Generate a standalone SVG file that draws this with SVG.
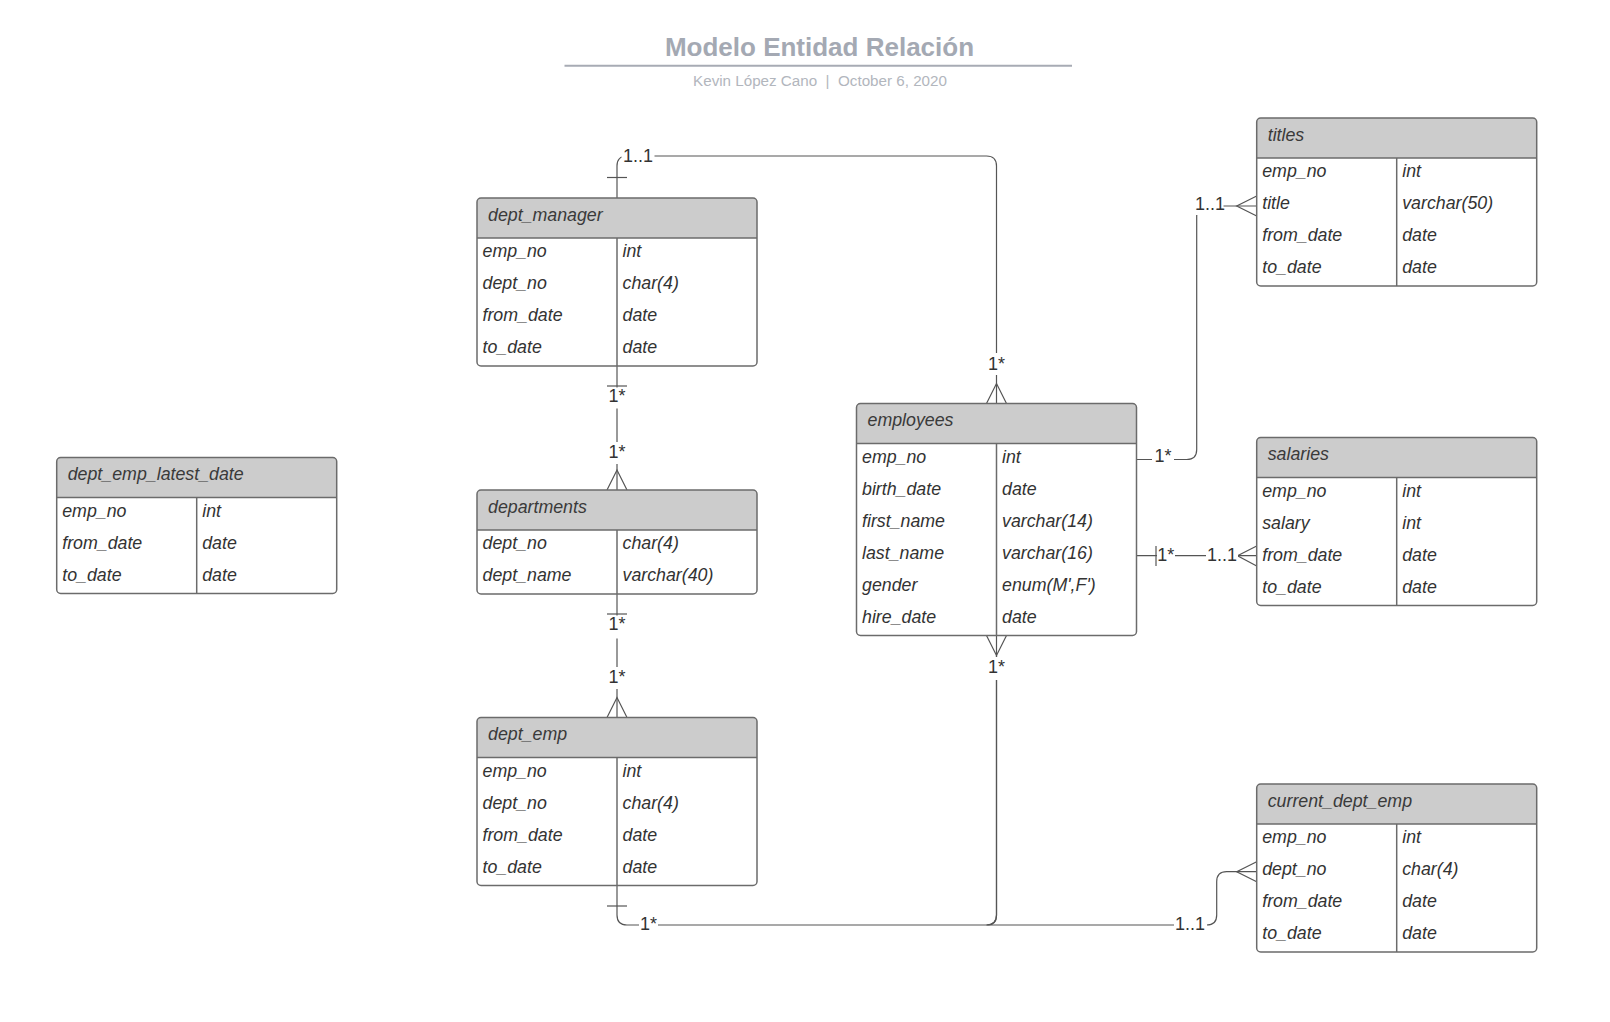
<svg xmlns="http://www.w3.org/2000/svg" width="1610" height="1022" viewBox="0 0 1610 1022">
<style>
  .body{fill:#ffffff;stroke:none}
  .hdr{fill:#cccccc;stroke:none}
  .frame{fill:none;stroke:#6b6b6b;stroke-width:1.5}
  .ln{stroke:#6b6b6b;stroke-width:1.5}
  .ht{font-family:"Liberation Sans",Arial,sans-serif;font-style:italic;font-size:17.8px;fill:#3a3a3a}
  .t{font-family:"Liberation Sans",Arial,sans-serif;font-style:italic;font-size:17.8px;fill:#333333}
  .c{fill:none;stroke:#555555;stroke-width:1.2}
  .lb{font-family:"Liberation Sans",Arial,sans-serif;font-size:18px;fill:#333333}
  .bg{fill:#ffffff}
</style>
<rect width="1610" height="1022" fill="#ffffff"/>

<g id="title">
  <text x="819.5" y="56" text-anchor="middle" font-family="Liberation Sans, Arial, sans-serif" font-weight="bold" font-size="26" fill="#a4a9b3">Modelo Entidad Relación</text>
  <line x1="564.5" y1="65.7" x2="1072" y2="65.7" stroke="#a7abb4" stroke-width="2"/>
  <text x="820" y="85.5" text-anchor="middle" font-family="Liberation Sans, Arial, sans-serif" font-size="15.2" fill="#b2b6bd" xml:space="preserve">Kevin López Cano  |  October 6, 2020</text>
</g>

<g id="connectors">
  <!-- dept_manager -> employees -->
  <path class="c" d="M617,198 V166 Q617,156 627,156 H986.5 Q996.5,156 996.5,166 V403.5"/>
  <path class="c" d="M607,177.5 H627"/>
  <path class="c" d="M986.5,403.5 L996.5,383.5 L1006.5,403.5"/>
  <!-- dept_manager -> departments -->
  <path class="c" d="M617,366 V490"/>
  <path class="c" d="M607,386 H627"/>
  <path class="c" d="M607,490 L617,470 L627,490"/>
  <!-- departments -> dept_emp -->
  <path class="c" d="M617,594 V717.5"/>
  <path class="c" d="M607,614 H627"/>
  <path class="c" d="M607,717.5 L617,697.5 L627,717.5"/>
  <!-- dept_emp -> employees -->
  <path class="c" d="M617,885.5 V915 Q617,925 627,925 H986.5 Q996.5,925 996.5,915 V635.5"/>
  <path class="c" d="M607,906 H627"/>
  <path class="c" d="M986.5,635.5 L996.5,655.5 L1006.5,635.5"/>
  <!-- employees -> current_dept_emp -->
  <path class="c" d="M996.5,655.5 V915 Q996.5,925 986.5,925 H1206.7 Q1216.7,925 1216.7,915 V881.7 Q1216.7,871.7 1226.7,871.7 H1256.7"/>
  <path class="c" d="M1256.7,861.7 L1236.7,871.7 L1256.7,881.7"/>
  <!-- employees -> titles -->
  <path class="c" d="M1136.7,459.5 H1186.7 Q1196.7,459.5 1196.7,449.5 V216 Q1196.7,206 1206.7,206 H1256.7"/>
  <path class="c" d="M1256.7,196 L1236.7,206 L1256.7,216"/>
  <!-- employees -> salaries -->
  <path class="c" d="M1136.7,555.7 H1256.7"/>
  <path class="c" d="M1156,546 V566"/>
  <path class="c" d="M1256.7,546 L1237.5,555.7 L1256.7,566"/>

  <!-- labels -->
  <rect class="bg" x="621.5" y="146" width="33" height="20"/>
  <text class="lb" x="623" y="161.7">1..1</text>
  <rect class="bg" x="987" y="353" width="19" height="22"/>
  <text class="lb" x="996.5" y="370" text-anchor="middle">1*</text>
  <rect class="bg" x="607.5" y="387.5" width="19" height="21"/>
  <text class="lb" x="617" y="402" text-anchor="middle">1*</text>
  <rect class="bg" x="607.5" y="442" width="19" height="22"/>
  <text class="lb" x="617" y="458" text-anchor="middle">1*</text>
  <rect class="bg" x="607.5" y="615.5" width="19" height="23"/>
  <text class="lb" x="617" y="630" text-anchor="middle">1*</text>
  <rect class="bg" x="607.5" y="667" width="19" height="22"/>
  <text class="lb" x="617" y="683.3" text-anchor="middle">1*</text>
  <rect class="bg" x="987" y="657" width="19" height="23"/>
  <text class="lb" x="996.5" y="673" text-anchor="middle">1*</text>
  <rect class="bg" x="639" y="915" width="19" height="20"/>
  <text class="lb" x="648.5" y="930" text-anchor="middle">1*</text>
  <rect class="bg" x="1174" y="915" width="33" height="20"/>
  <text class="lb" x="1175" y="930">1..1</text>
  <rect class="bg" x="1152" y="449" width="22" height="18"/>
  <text class="lb" x="1163" y="461.7" text-anchor="middle">1*</text>
  <rect class="bg" x="1157" y="546" width="18" height="18"/>
  <text class="lb" x="1157.3" y="560.7">1*</text>
  <rect class="bg" x="1206" y="546" width="32" height="18"/>
  <text class="lb" x="1207" y="560.7">1..1</text>
  <rect class="bg" x="1193.5" y="195" width="30" height="20"/>
  <text class="lb" x="1195" y="210">1..1</text>
</g>

<g id="dept_manager" transform="translate(477,198)">
  <rect class="body" width="280" height="168" rx="4"/>
  <path class="hdr" d="M0,40 V4 Q0,0 4,0 H276 Q280,0 280,4 V40 Z"/>
  <line class="ln" x1="0" y1="40" x2="280" y2="40"/>
  <line class="ln" x1="140" y1="40" x2="140" y2="168"/>
  <rect class="frame" width="280" height="168" rx="4"/>
  <text class="ht" x="11" y="22.5">dept_manager</text>
  <text class="t" x="5.5" y="59">emp_no</text><text class="t" x="145.5" y="59">int</text>
  <text class="t" x="5.5" y="91">dept_no</text><text class="t" x="145.5" y="91">char(4)</text>
  <text class="t" x="5.5" y="123">from_date</text><text class="t" x="145.5" y="123">date</text>
  <text class="t" x="5.5" y="155">to_date</text><text class="t" x="145.5" y="155">date</text>
</g>

<g id="departments" transform="translate(477,490)">
  <rect class="body" width="280" height="104" rx="4"/>
  <path class="hdr" d="M0,40 V4 Q0,0 4,0 H276 Q280,0 280,4 V40 Z"/>
  <line class="ln" x1="0" y1="40" x2="280" y2="40"/>
  <line class="ln" x1="140" y1="40" x2="140" y2="104"/>
  <rect class="frame" width="280" height="104" rx="4"/>
  <text class="ht" x="11" y="22.5">departments</text>
  <text class="t" x="5.5" y="59">dept_no</text><text class="t" x="145.5" y="59">char(4)</text>
  <text class="t" x="5.5" y="91">dept_name</text><text class="t" x="145.5" y="91">varchar(40)</text>
</g>

<g id="dept_emp" transform="translate(477,717.5)">
  <rect class="body" width="280" height="168" rx="4"/>
  <path class="hdr" d="M0,40 V4 Q0,0 4,0 H276 Q280,0 280,4 V40 Z"/>
  <line class="ln" x1="0" y1="40" x2="280" y2="40"/>
  <line class="ln" x1="140" y1="40" x2="140" y2="168"/>
  <rect class="frame" width="280" height="168" rx="4"/>
  <text class="ht" x="11" y="22.5">dept_emp</text>
  <text class="t" x="5.5" y="59">emp_no</text><text class="t" x="145.5" y="59">int</text>
  <text class="t" x="5.5" y="91">dept_no</text><text class="t" x="145.5" y="91">char(4)</text>
  <text class="t" x="5.5" y="123">from_date</text><text class="t" x="145.5" y="123">date</text>
  <text class="t" x="5.5" y="155">to_date</text><text class="t" x="145.5" y="155">date</text>
</g>

<g id="employees" transform="translate(856.5,403.5)">
  <rect class="body" width="280" height="232" rx="4"/>
  <path class="hdr" d="M0,40 V4 Q0,0 4,0 H276 Q280,0 280,4 V40 Z"/>
  <line class="ln" x1="0" y1="40" x2="280" y2="40"/>
  <line class="ln" x1="140" y1="40" x2="140" y2="232"/>
  <rect class="frame" width="280" height="232" rx="4"/>
  <text class="ht" x="11" y="22.5">employees</text>
  <text class="t" x="5.5" y="59">emp_no</text><text class="t" x="145.5" y="59">int</text>
  <text class="t" x="5.5" y="91">birth_date</text><text class="t" x="145.5" y="91">date</text>
  <text class="t" x="5.5" y="123">first_name</text><text class="t" x="145.5" y="123">varchar(14)</text>
  <text class="t" x="5.5" y="155">last_name</text><text class="t" x="145.5" y="155">varchar(16)</text>
  <text class="t" x="5.5" y="187">gender</text><text class="t" x="145.5" y="187">enum(M',F')</text>
  <text class="t" x="5.5" y="219">hire_date</text><text class="t" x="145.5" y="219">date</text>
</g>

<g id="titles" transform="translate(1256.7,118)">
  <rect class="body" width="280" height="168" rx="4"/>
  <path class="hdr" d="M0,40 V4 Q0,0 4,0 H276 Q280,0 280,4 V40 Z"/>
  <line class="ln" x1="0" y1="40" x2="280" y2="40"/>
  <line class="ln" x1="140" y1="40" x2="140" y2="168"/>
  <rect class="frame" width="280" height="168" rx="4"/>
  <text class="ht" x="11" y="22.5">titles</text>
  <text class="t" x="5.5" y="59">emp_no</text><text class="t" x="145.5" y="59">int</text>
  <text class="t" x="5.5" y="91">title</text><text class="t" x="145.5" y="91">varchar(50)</text>
  <text class="t" x="5.5" y="123">from_date</text><text class="t" x="145.5" y="123">date</text>
  <text class="t" x="5.5" y="155">to_date</text><text class="t" x="145.5" y="155">date</text>
</g>

<g id="salaries" transform="translate(1256.7,437.5)">
  <rect class="body" width="280" height="168" rx="4"/>
  <path class="hdr" d="M0,40 V4 Q0,0 4,0 H276 Q280,0 280,4 V40 Z"/>
  <line class="ln" x1="0" y1="40" x2="280" y2="40"/>
  <line class="ln" x1="140" y1="40" x2="140" y2="168"/>
  <rect class="frame" width="280" height="168" rx="4"/>
  <text class="ht" x="11" y="22.5">salaries</text>
  <text class="t" x="5.5" y="59">emp_no</text><text class="t" x="145.5" y="59">int</text>
  <text class="t" x="5.5" y="91">salary</text><text class="t" x="145.5" y="91">int</text>
  <text class="t" x="5.5" y="123">from_date</text><text class="t" x="145.5" y="123">date</text>
  <text class="t" x="5.5" y="155">to_date</text><text class="t" x="145.5" y="155">date</text>
</g>

<g id="current_dept_emp" transform="translate(1256.7,784)">
  <rect class="body" width="280" height="168" rx="4"/>
  <path class="hdr" d="M0,40 V4 Q0,0 4,0 H276 Q280,0 280,4 V40 Z"/>
  <line class="ln" x1="0" y1="40" x2="280" y2="40"/>
  <line class="ln" x1="140" y1="40" x2="140" y2="168"/>
  <rect class="frame" width="280" height="168" rx="4"/>
  <text class="ht" x="11" y="22.5">current_dept_emp</text>
  <text class="t" x="5.5" y="59">emp_no</text><text class="t" x="145.5" y="59">int</text>
  <text class="t" x="5.5" y="91">dept_no</text><text class="t" x="145.5" y="91">char(4)</text>
  <text class="t" x="5.5" y="123">from_date</text><text class="t" x="145.5" y="123">date</text>
  <text class="t" x="5.5" y="155">to_date</text><text class="t" x="145.5" y="155">date</text>
</g>

<g id="dept_emp_latest_date" transform="translate(56.7,457.5)">
  <rect class="body" width="280" height="136" rx="4"/>
  <path class="hdr" d="M0,40 V4 Q0,0 4,0 H276 Q280,0 280,4 V40 Z"/>
  <line class="ln" x1="0" y1="40" x2="280" y2="40"/>
  <line class="ln" x1="140" y1="40" x2="140" y2="136"/>
  <rect class="frame" width="280" height="136" rx="4"/>
  <text class="ht" x="11" y="22.5">dept_emp_latest_date</text>
  <text class="t" x="5.5" y="59">emp_no</text><text class="t" x="145.5" y="59">int</text>
  <text class="t" x="5.5" y="91">from_date</text><text class="t" x="145.5" y="91">date</text>
  <text class="t" x="5.5" y="123">to_date</text><text class="t" x="145.5" y="123">date</text>
</g>
</svg>
